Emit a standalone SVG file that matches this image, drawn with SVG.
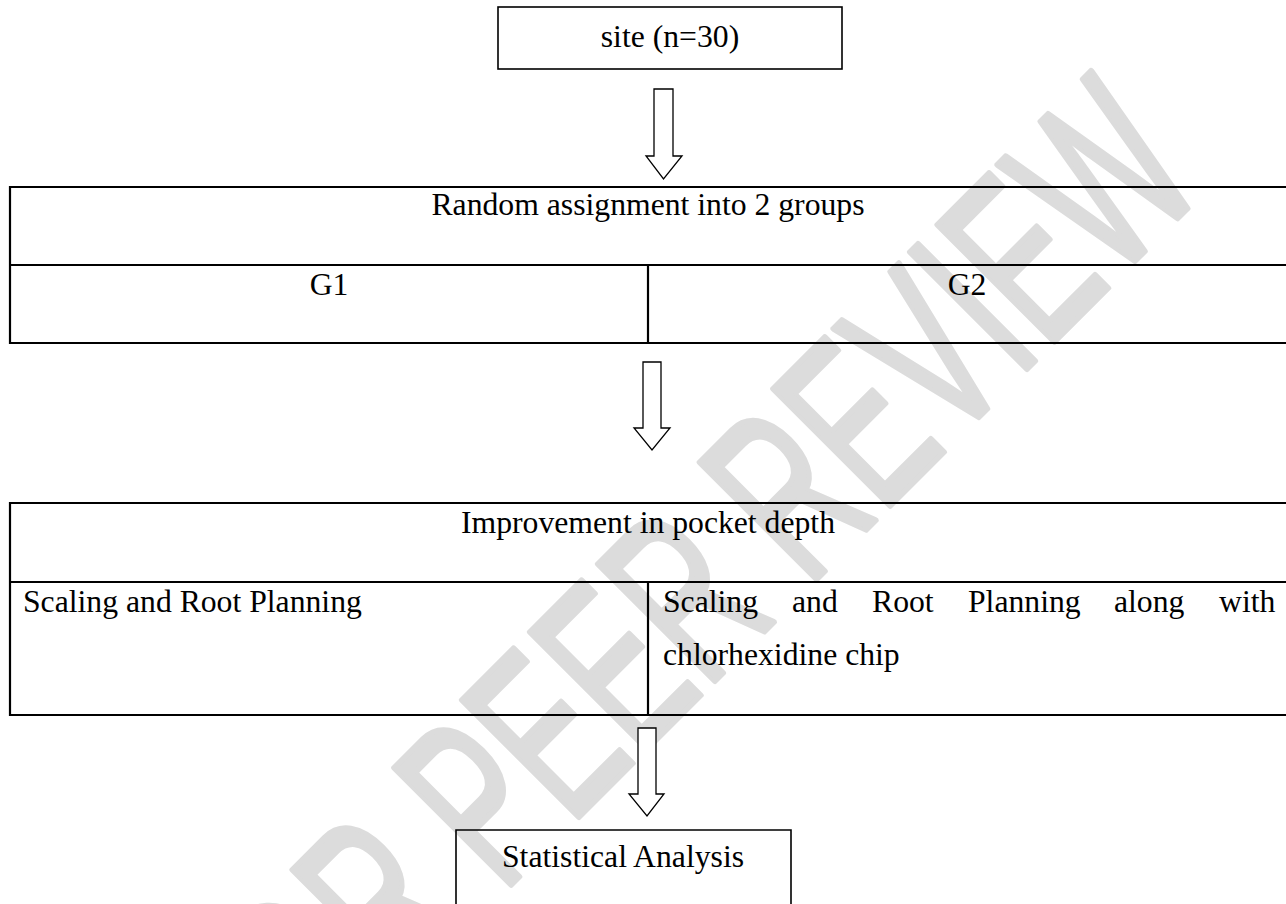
<svg xmlns="http://www.w3.org/2000/svg" width="1286" height="904" viewBox="0 0 1286 904">
<style>
  .t { font-family: "Liberation Serif", "Times New Roman", serif; font-size: 31.7px; fill: #000; }
  .c { text-anchor: middle; }
  .box { fill: none; stroke: #000; stroke-width: 1.6; }
  .tl { stroke: #000; stroke-width: 2.2; fill: none; }
  .arrow { fill: #fff; stroke: #000; stroke-width: 1.3; stroke-linejoin: miter; }
  .wm { font-family: "Liberation Sans", Arial, sans-serif; font-size: 240px; fill: #dcdcdc; stroke: #dcdcdc; stroke-width: 6; stroke-linejoin: round; }
</style>
<rect width="1286" height="904" fill="#fff"/>
<g id="watermark" transform="rotate(-45) scale(0.6,1)">
  <text class="wm" x="1205" y="987" text-anchor="end">FOR PEER REVIEW</text>
</g>
<g id="node-site">
  <rect class="box" x="498" y="7" width="344" height="62"/>
  <text class="t c" x="670" y="47">site (n=30)</text>
</g>
<g id="node-random">
  <polyline class="tl" points="1290,187 10,187 10,343 1290,343"/>
  <line class="tl" x1="10" y1="265" x2="1290" y2="265"/>
  <line class="tl" x1="648" y1="265" x2="648" y2="343"/>
  <text class="t c" x="648" y="215">Random assignment into 2 groups</text>
  <text class="t c" x="329" y="295">G1</text>
  <text class="t c" x="967" y="295">G2</text>
</g>
<g id="node-improvement">
  <polyline class="tl" points="1290,503 10,503 10,715 1290,715"/>
  <line class="tl" x1="10" y1="582" x2="1290" y2="582"/>
  <line class="tl" x1="648" y1="582" x2="648" y2="715"/>
  <text class="t c" x="648" y="533">Improvement in pocket depth</text>
  <text class="t" x="23" y="612">Scaling and Root Planning</text>
  <text class="t" y="612"><tspan x="663">Scaling</tspan><tspan x="792">and</tspan><tspan x="872">Root</tspan><tspan x="968">Planning</tspan><tspan x="1114">along</tspan><tspan x="1219">with</tspan></text>
  <text class="t" x="663" y="665">chlorhexidine chip</text>
</g>
<g id="node-stats">
  <polyline class="box" points="456,910 456,830 791,830 791,910"/>
  <text class="t c" x="623" y="867">Statistical Analysis</text>
</g>
<g id="connectors">
  <polygon class="arrow" points="654,89 673,89 673,156 682,156 663.5,179 646,156 654,156"/>
  <polygon class="arrow" points="643,362 661,362 661,428 670,428 652,450 634,428 643,428"/>
  <polygon class="arrow" points="638,728 656,728 656,794 664,794 647,816 629,794 638,794"/>
</g>
</svg>
